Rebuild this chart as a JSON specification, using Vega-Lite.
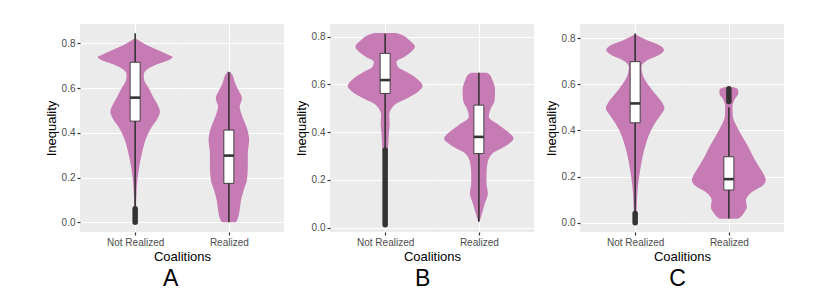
{
  "$schema": "https://vega.github.io/schema/vega-lite/v6.json",
  "background": "white",
  "padding": {"left": 45, "top": 24, "right": 0, "bottom": 0},
  "spacing": 11,
  "config": {
    "font": "Liberation Sans",
    "view": {"fill": "#EBEBEB", "stroke": null},
    "axis": {"labelFontSize": 10, "labelColor": "#4D4D4D", "tickColor": "#333333", "tickWidth": 1.2, "tickSize": 3, "labelPadding": 2, "domain": false, "gridColor": "white", "titleFontWeight": "normal", "titleColor": "black", "titleFontSize": 13, "labelFlush": false},
    "title": {"font": "Liberation Sans", "fontWeight": "normal", "color": "black"}
  },
  "datasets": {
    "violin": [
      {"panel":"A","group":"Not Realized","value":0.0,"density":0.05},
      {"panel":"A","group":"Not Realized","value":0.07,"density":0.1},
      {"panel":"A","group":"Not Realized","value":0.13,"density":0.15},
      {"panel":"A","group":"Not Realized","value":0.19,"density":0.25},
      {"panel":"A","group":"Not Realized","value":0.248,"density":0.45},
      {"panel":"A","group":"Not Realized","value":0.308,"density":0.75},
      {"panel":"A","group":"Not Realized","value":0.368,"density":1.15},
      {"panel":"A","group":"Not Realized","value":0.427,"density":1.85},
      {"panel":"A","group":"Not Realized","value":0.465,"density":2.5},
      {"panel":"A","group":"Not Realized","value":0.494,"density":2.75},
      {"panel":"A","group":"Not Realized","value":0.524,"density":2.5},
      {"panel":"A","group":"Not Realized","value":0.56,"density":2.0},
      {"panel":"A","group":"Not Realized","value":0.6,"density":1.5},
      {"panel":"A","group":"Not Realized","value":0.636,"density":1.0},
      {"panel":"A","group":"Not Realized","value":0.658,"density":0.95},
      {"panel":"A","group":"Not Realized","value":0.68,"density":1.25},
      {"panel":"A","group":"Not Realized","value":0.703,"density":2.25},
      {"panel":"A","group":"Not Realized","value":0.725,"density":3.75},
      {"panel":"A","group":"Not Realized","value":0.738,"density":4.15},
      {"panel":"A","group":"Not Realized","value":0.75,"density":3.6},
      {"panel":"A","group":"Not Realized","value":0.77,"density":2.5},
      {"panel":"A","group":"Not Realized","value":0.79,"density":1.4},
      {"panel":"A","group":"Not Realized","value":0.81,"density":0.5},
      {"panel":"A","group":"Not Realized","value":0.82,"density":0.1},

      {"panel":"A","group":"Realized","value":0.0,"density":0.8},
      {"panel":"A","group":"Realized","value":0.018,"density":1.0},
      {"panel":"A","group":"Realized","value":0.055,"density":1.2},
      {"panel":"A","group":"Realized","value":0.1,"density":1.35},
      {"panel":"A","group":"Realized","value":0.144,"density":1.65},
      {"panel":"A","group":"Realized","value":0.189,"density":2.0},
      {"panel":"A","group":"Realized","value":0.248,"density":2.1},
      {"panel":"A","group":"Realized","value":0.308,"density":2.1},
      {"panel":"A","group":"Realized","value":0.368,"density":2.25},
      {"panel":"A","group":"Realized","value":0.427,"density":1.95},
      {"panel":"A","group":"Realized","value":0.472,"density":1.5},
      {"panel":"A","group":"Realized","value":0.517,"density":1.2},
      {"panel":"A","group":"Realized","value":0.554,"density":1.45},
      {"panel":"A","group":"Realized","value":0.584,"density":1.15},
      {"panel":"A","group":"Realized","value":0.621,"density":0.7},
      {"panel":"A","group":"Realized","value":0.658,"density":0.4},
      {"panel":"A","group":"Realized","value":0.673,"density":0.15},

      {"panel":"B","group":"Not Realized","value":0.007,"density":0.2},
      {"panel":"B","group":"Not Realized","value":0.1,"density":0.2},
      {"panel":"B","group":"Not Realized","value":0.2,"density":0.2},
      {"panel":"B","group":"Not Realized","value":0.3,"density":0.25},
      {"panel":"B","group":"Not Realized","value":0.35,"density":0.35},
      {"panel":"B","group":"Not Realized","value":0.394,"density":0.4},
      {"panel":"B","group":"Not Realized","value":0.436,"density":0.5},
      {"panel":"B","group":"Not Realized","value":0.471,"density":0.45},
      {"panel":"B","group":"Not Realized","value":0.499,"density":0.7},
      {"panel":"B","group":"Not Realized","value":0.52,"density":1.25},
      {"panel":"B","group":"Not Realized","value":0.541,"density":2.4},
      {"panel":"B","group":"Not Realized","value":0.569,"density":3.65},
      {"panel":"B","group":"Not Realized","value":0.593,"density":4.15},
      {"panel":"B","group":"Not Realized","value":0.625,"density":3.5},
      {"panel":"B","group":"Not Realized","value":0.653,"density":2.35},
      {"panel":"B","group":"Not Realized","value":0.674,"density":1.4},
      {"panel":"B","group":"Not Realized","value":0.695,"density":1.25},
      {"panel":"B","group":"Not Realized","value":0.716,"density":2.15},
      {"panel":"B","group":"Not Realized","value":0.737,"density":2.9},
      {"panel":"B","group":"Not Realized","value":0.758,"density":3.3},
      {"panel":"B","group":"Not Realized","value":0.786,"density":2.65},
      {"panel":"B","group":"Not Realized","value":0.805,"density":2.0},
      {"panel":"B","group":"Not Realized","value":0.815,"density":1.2},

      {"panel":"B","group":"Realized","value":0.024,"density":0.05},
      {"panel":"B","group":"Realized","value":0.059,"density":0.35},
      {"panel":"B","group":"Realized","value":0.1,"density":0.65},
      {"panel":"B","group":"Realized","value":0.143,"density":1.0},
      {"panel":"B","group":"Realized","value":0.185,"density":0.85},
      {"panel":"B","group":"Realized","value":0.227,"density":0.85},
      {"panel":"B","group":"Realized","value":0.268,"density":0.95},
      {"panel":"B","group":"Realized","value":0.31,"density":1.5},
      {"panel":"B","group":"Realized","value":0.345,"density":3.1},
      {"panel":"B","group":"Realized","value":0.373,"density":3.85},
      {"panel":"B","group":"Realized","value":0.394,"density":3.45},
      {"panel":"B","group":"Realized","value":0.429,"density":2.25},
      {"panel":"B","group":"Realized","value":0.464,"density":1.1},
      {"panel":"B","group":"Realized","value":0.492,"density":1.25},
      {"panel":"B","group":"Realized","value":0.534,"density":1.75},
      {"panel":"B","group":"Realized","value":0.576,"density":1.8},
      {"panel":"B","group":"Realized","value":0.618,"density":1.5},
      {"panel":"B","group":"Realized","value":0.64,"density":1.2},
      {"panel":"B","group":"Realized","value":0.649,"density":0.9},

      {"panel":"C","group":"Not Realized","value":0.0,"density":0.1},
      {"panel":"C","group":"Not Realized","value":0.05,"density":0.15},
      {"panel":"C","group":"Not Realized","value":0.1,"density":0.2},
      {"panel":"C","group":"Not Realized","value":0.156,"density":0.3},
      {"panel":"C","group":"Not Realized","value":0.214,"density":0.5},
      {"panel":"C","group":"Not Realized","value":0.272,"density":0.75},
      {"panel":"C","group":"Not Realized","value":0.329,"density":1.1},
      {"panel":"C","group":"Not Realized","value":0.387,"density":1.6},
      {"panel":"C","group":"Not Realized","value":0.431,"density":2.2},
      {"panel":"C","group":"Not Realized","value":0.474,"density":2.95},
      {"panel":"C","group":"Not Realized","value":0.495,"density":3.25},
      {"panel":"C","group":"Not Realized","value":0.52,"density":3.0},
      {"panel":"C","group":"Not Realized","value":0.546,"density":2.5},
      {"panel":"C","group":"Not Realized","value":0.582,"density":1.75},
      {"panel":"C","group":"Not Realized","value":0.618,"density":1.1},
      {"panel":"C","group":"Not Realized","value":0.654,"density":0.75},
      {"panel":"C","group":"Not Realized","value":0.676,"density":0.7},
      {"panel":"C","group":"Not Realized","value":0.705,"density":1.4},
      {"panel":"C","group":"Not Realized","value":0.727,"density":2.65},
      {"panel":"C","group":"Not Realized","value":0.748,"density":3.2},
      {"panel":"C","group":"Not Realized","value":0.77,"density":2.65},
      {"panel":"C","group":"Not Realized","value":0.792,"density":1.25},
      {"panel":"C","group":"Not Realized","value":0.81,"density":0.3},
      {"panel":"C","group":"Not Realized","value":0.815,"density":0.05},

      {"panel":"C","group":"Realized","value":0.017,"density":1.0},
      {"panel":"C","group":"Realized","value":0.025,"density":1.3},
      {"panel":"C","group":"Realized","value":0.041,"density":1.65},
      {"panel":"C","group":"Realized","value":0.069,"density":2.0},
      {"panel":"C","group":"Realized","value":0.098,"density":1.9},
      {"panel":"C","group":"Realized","value":0.134,"density":2.6},
      {"panel":"C","group":"Realized","value":0.163,"density":3.8},
      {"panel":"C","group":"Realized","value":0.185,"density":4.1},
      {"panel":"C","group":"Realized","value":0.207,"density":3.9},
      {"panel":"C","group":"Realized","value":0.243,"density":3.35},
      {"panel":"C","group":"Realized","value":0.286,"density":2.7},
      {"panel":"C","group":"Realized","value":0.329,"density":2.15},
      {"panel":"C","group":"Realized","value":0.373,"density":1.5},
      {"panel":"C","group":"Realized","value":0.416,"density":0.9},
      {"panel":"C","group":"Realized","value":0.459,"density":0.45},
      {"panel":"C","group":"Realized","value":0.503,"density":0.4},
      {"panel":"C","group":"Realized","value":0.532,"density":0.6},
      {"panel":"C","group":"Realized","value":0.561,"density":1.05},
      {"panel":"C","group":"Realized","value":0.578,"density":1.0},
      {"panel":"C","group":"Realized","value":0.587,"density":0.5}
    ],
    "box": [
      {"panel":"A","group":"Not Realized","lo":0.07,"q1":0.452,"median":0.557,"q3":0.715,"hi":0.845,"olo":0.0,"ohi":0.06},
      {"panel":"A","group":"Realized","lo":0.0,"q1":0.174,"median":0.298,"q3":0.412,"hi":0.67},
      {"panel":"B","group":"Not Realized","lo":0.33,"q1":0.562,"median":0.618,"q3":0.73,"hi":0.812,"olo":0.012,"ohi":0.325},
      {"panel":"B","group":"Realized","lo":0.024,"q1":0.31,"median":0.38,"q3":0.513,"hi":0.649},
      {"panel":"C","group":"Not Realized","lo":0.05,"q1":0.433,"median":0.517,"q3":0.698,"hi":0.82,"olo":0.0,"ohi":0.04},
      {"panel":"C","group":"Realized","lo":0.018,"q1":0.142,"median":0.189,"q3":0.286,"hi":0.5,"olo":0.525,"ohi":0.58}
    ]
  },
  "hconcat": [
    {
      "title": {"text": "A", "orient": "bottom", "anchor": "middle", "fontSize": 23, "offset": 5, "dx": 6},
      "bounds": "flush", "spacing": 0,
      "hconcat": [
        {
          "width": 102, "height": 208,
          "layer": [
            {"data": {"name": "violin"}, "transform": [{"filter": "datum.panel == 'A' && datum.group == 'Not Realized'"}],
             "mark": {"type": "area", "orient": "horizontal", "interpolate": "monotone", "color": "#C77BB4", "opacity": 1},
             "encoding": {
               "y": {"field": "value", "type": "quantitative", "scale": {"domain": [-0.0434, 0.886], "nice": false, "zero": false},
                     "axis": {"values": [0,0.1,0.2,0.3,0.4,0.5,0.6,0.7,0.8], "labelExpr": "round(datum.value*10) % 2 == 1 ? '' : format(datum.value, '.1f')", "title": "Inequality", "titlePadding": 3, "grid": true, "tickOpacity": {"condition": {"test": "round(datum.value*10) % 2 == 1", "value": 0}, "value": 1}, "gridWidth": {"condition": {"test": "round(datum.value*10) % 2 == 1", "value": 0.55}, "value": 1.1}}},
               "x": {"field": "density", "type": "quantitative", "stack": "center", "impute": null, "scale": {"domain": [-0.705, 4.395], "nice": false, "zero": false},
                     "axis": {"values": [2.075], "labelExpr": "'Not Realized'", "title": "Coalitions", "titleAnchor": "end", "titleAlign": "center", "titlePadding": 3, "grid": true, "gridWidth": 1.1}}
             }},
            {"data": {"name": "box"}, "transform": [{"filter": "datum.panel == 'A' && datum.group == 'Not Realized'"}],
             "mark": {"type": "rule", "color": "#333333", "strokeWidth": 1.6},
             "encoding": {"x": {"datum": 2.075, "type": "quantitative"}, "y": {"field": "lo", "type": "quantitative"}, "y2": {"field": "hi"}}},
            {"data": {"name": "box"}, "transform": [{"filter": "datum.panel == 'A' && datum.group == 'Not Realized'"}],
             "mark": {"type": "rule", "color": "#333333", "strokeWidth": 5.5, "strokeCap": "round"},
             "encoding": {"x": {"datum": 2.075, "type": "quantitative"}, "y": {"field": "olo", "type": "quantitative"}, "y2": {"field": "ohi"}}},
            {"data": {"name": "box"}, "transform": [{"filter": "datum.panel == 'A' && datum.group == 'Not Realized'"}],
             "mark": {"type": "bar", "size": 10, "fill": "white", "stroke": "#333333", "strokeWidth": 0.9},
             "encoding": {"x": {"datum": 2.075, "type": "quantitative"}, "y": {"field": "q1", "type": "quantitative"}, "y2": {"field": "q3"}}},
            {"data": {"name": "box"}, "transform": [{"filter": "datum.panel == 'A' && datum.group == 'Not Realized'"}],
             "mark": {"type": "tick", "orient": "horizontal", "size": 10, "thickness": 2.6, "color": "#333333", "opacity": 1},
             "encoding": {"x": {"datum": 2.075, "type": "quantitative"}, "y": {"field": "median", "type": "quantitative"}}}
          ]
        },
        {
          "width": 102, "height": 208,
          "layer": [
            {"data": {"name": "violin"}, "transform": [{"filter": "datum.panel == 'A' && datum.group == 'Realized'"}],
             "mark": {"type": "area", "orient": "horizontal", "interpolate": "monotone", "color": "#C77BB4", "opacity": 1},
             "encoding": {
               "y": {"field": "value", "type": "quantitative", "scale": {"domain": [-0.0434, 0.886], "nice": false, "zero": false},
                     "axis": {"values": [0,0.1,0.2,0.3,0.4,0.5,0.6,0.7,0.8], "labels": false, "ticks": false, "title": null, "grid": true, "gridWidth": {"condition": {"test": "round(datum.value*10) % 2 == 1", "value": 0.55}, "value": 1.1}}},
               "x": {"field": "density", "type": "quantitative", "stack": "center", "impute": null, "scale": {"domain": [-1.195, 3.905], "nice": false, "zero": false},
                     "axis": {"values": [1.125], "labelExpr": "'Realized'", "title": null, "grid": true, "gridWidth": 1.1}}
             }},
            {"data": {"name": "box"}, "transform": [{"filter": "datum.panel == 'A' && datum.group == 'Realized'"}],
             "mark": {"type": "rule", "color": "#333333", "strokeWidth": 1.6},
             "encoding": {"x": {"datum": 1.125, "type": "quantitative"}, "y": {"field": "lo", "type": "quantitative"}, "y2": {"field": "hi"}}},
            {"data": {"name": "box"}, "transform": [{"filter": "datum.panel == 'A' && datum.group == 'Realized'"}],
             "mark": {"type": "bar", "size": 10, "fill": "white", "stroke": "#333333", "strokeWidth": 0.9},
             "encoding": {"x": {"datum": 1.125, "type": "quantitative"}, "y": {"field": "q1", "type": "quantitative"}, "y2": {"field": "q3"}}},
            {"data": {"name": "box"}, "transform": [{"filter": "datum.panel == 'A' && datum.group == 'Realized'"}],
             "mark": {"type": "tick", "orient": "horizontal", "size": 10, "thickness": 2.6, "color": "#333333", "opacity": 1},
             "encoding": {"x": {"datum": 1.125, "type": "quantitative"}, "y": {"field": "median", "type": "quantitative"}}}
          ]
        }
      ]
    },
    {
      "title": {"text": "B", "orient": "bottom", "anchor": "middle", "fontSize": 23, "offset": 5, "dx": 8},
      "bounds": "flush", "spacing": 0,
      "hconcat": [
        {
          "width": 102, "height": 208,
          "layer": [
            {"data": {"name": "violin"}, "transform": [{"filter": "datum.panel == 'B' && datum.group == 'Not Realized'"}],
             "mark": {"type": "area", "orient": "horizontal", "interpolate": "monotone", "color": "#C77BB4", "opacity": 1},
             "encoding": {
               "y": {"field": "value", "type": "quantitative", "scale": {"domain": [-0.0185, 0.853], "nice": false, "zero": false},
                     "axis": {"values": [0,0.1,0.2,0.3,0.4,0.5,0.6,0.7,0.8], "labelExpr": "round(datum.value*10) % 2 == 1 ? '' : format(datum.value, '.1f')", "title": "Inequality", "titlePadding": 3, "grid": true, "tickOpacity": {"condition": {"test": "round(datum.value*10) % 2 == 1", "value": 0}, "value": 1}, "gridWidth": {"condition": {"test": "round(datum.value*10) % 2 == 1", "value": 0.55}, "value": 1.1}}},
               "x": {"field": "density", "type": "quantitative", "stack": "center", "impute": null, "scale": {"domain": [-0.705, 4.395], "nice": false, "zero": false},
                     "axis": {"values": [2.075], "labelExpr": "'Not Realized'", "title": "Coalitions", "titleAnchor": "end", "titleAlign": "center", "titlePadding": 3, "grid": true, "gridWidth": 1.1}}
             }},
            {"data": {"name": "box"}, "transform": [{"filter": "datum.panel == 'B' && datum.group == 'Not Realized'"}],
             "mark": {"type": "rule", "color": "#333333", "strokeWidth": 1.6},
             "encoding": {"x": {"datum": 2.075, "type": "quantitative"}, "y": {"field": "lo", "type": "quantitative"}, "y2": {"field": "hi"}}},
            {"data": {"name": "box"}, "transform": [{"filter": "datum.panel == 'B' && datum.group == 'Not Realized'"}],
             "mark": {"type": "rule", "color": "#333333", "strokeWidth": 5.5, "strokeCap": "round"},
             "encoding": {"x": {"datum": 2.075, "type": "quantitative"}, "y": {"field": "olo", "type": "quantitative"}, "y2": {"field": "ohi"}}},
            {"data": {"name": "box"}, "transform": [{"filter": "datum.panel == 'B' && datum.group == 'Not Realized'"}],
             "mark": {"type": "bar", "size": 10, "fill": "white", "stroke": "#333333", "strokeWidth": 0.9},
             "encoding": {"x": {"datum": 2.075, "type": "quantitative"}, "y": {"field": "q1", "type": "quantitative"}, "y2": {"field": "q3"}}},
            {"data": {"name": "box"}, "transform": [{"filter": "datum.panel == 'B' && datum.group == 'Not Realized'"}],
             "mark": {"type": "tick", "orient": "horizontal", "size": 10, "thickness": 2.6, "color": "#333333", "opacity": 1},
             "encoding": {"x": {"datum": 2.075, "type": "quantitative"}, "y": {"field": "median", "type": "quantitative"}}}
          ]
        },
        {
          "width": 102, "height": 208,
          "layer": [
            {"data": {"name": "violin"}, "transform": [{"filter": "datum.panel == 'B' && datum.group == 'Realized'"}],
             "mark": {"type": "area", "orient": "horizontal", "interpolate": "monotone", "color": "#C77BB4", "opacity": 1},
             "encoding": {
               "y": {"field": "value", "type": "quantitative", "scale": {"domain": [-0.0185, 0.853], "nice": false, "zero": false},
                     "axis": {"values": [0,0.1,0.2,0.3,0.4,0.5,0.6,0.7,0.8], "labels": false, "ticks": false, "title": null, "grid": true, "gridWidth": {"condition": {"test": "round(datum.value*10) % 2 == 1", "value": 0.55}, "value": 1.1}}},
               "x": {"field": "density", "type": "quantitative", "stack": "center", "impute": null, "scale": {"domain": [-0.395, 4.705], "nice": false, "zero": false},
                     "axis": {"values": [1.925], "labelExpr": "'Realized'", "title": null, "grid": true, "gridWidth": 1.1}}
             }},
            {"data": {"name": "box"}, "transform": [{"filter": "datum.panel == 'B' && datum.group == 'Realized'"}],
             "mark": {"type": "rule", "color": "#333333", "strokeWidth": 1.6},
             "encoding": {"x": {"datum": 1.925, "type": "quantitative"}, "y": {"field": "lo", "type": "quantitative"}, "y2": {"field": "hi"}}},
            {"data": {"name": "box"}, "transform": [{"filter": "datum.panel == 'B' && datum.group == 'Realized'"}],
             "mark": {"type": "bar", "size": 10, "fill": "white", "stroke": "#333333", "strokeWidth": 0.9},
             "encoding": {"x": {"datum": 1.925, "type": "quantitative"}, "y": {"field": "q1", "type": "quantitative"}, "y2": {"field": "q3"}}},
            {"data": {"name": "box"}, "transform": [{"filter": "datum.panel == 'B' && datum.group == 'Realized'"}],
             "mark": {"type": "tick", "orient": "horizontal", "size": 10, "thickness": 2.6, "color": "#333333", "opacity": 1},
             "encoding": {"x": {"datum": 1.925, "type": "quantitative"}, "y": {"field": "median", "type": "quantitative"}}}
          ]
        }
      ]
    },
    {
      "title": {"text": "C", "orient": "bottom", "anchor": "middle", "fontSize": 23, "offset": 5, "dx": 13},
      "bounds": "flush", "spacing": 0,
      "hconcat": [
        {
          "width": 102, "height": 208,
          "layer": [
            {"data": {"name": "violin"}, "transform": [{"filter": "datum.panel == 'C' && datum.group == 'Not Realized'"}],
             "mark": {"type": "area", "orient": "horizontal", "interpolate": "monotone", "color": "#C77BB4", "opacity": 1},
             "encoding": {
               "y": {"field": "value", "type": "quantitative", "scale": {"domain": [-0.04, 0.861], "nice": false, "zero": false},
                     "axis": {"values": [0,0.1,0.2,0.3,0.4,0.5,0.6,0.7,0.8], "labelExpr": "round(datum.value*10) % 2 == 1 ? '' : format(datum.value, '.1f')", "title": "Inequality", "titlePadding": 3, "grid": true, "tickOpacity": {"condition": {"test": "round(datum.value*10) % 2 == 1", "value": 0}, "value": 1}, "gridWidth": {"condition": {"test": "round(datum.value*10) % 2 == 1", "value": 0.55}, "value": 1.1}}},
               "x": {"field": "density", "type": "quantitative", "stack": "center", "impute": null, "scale": {"domain": [-1.155, 3.945], "nice": false, "zero": false},
                     "axis": {"values": [1.625], "labelExpr": "'Not Realized'", "title": "Coalitions", "titleAnchor": "end", "titleAlign": "center", "titlePadding": 3, "grid": true, "gridWidth": 1.1}}
             }},
            {"data": {"name": "box"}, "transform": [{"filter": "datum.panel == 'C' && datum.group == 'Not Realized'"}],
             "mark": {"type": "rule", "color": "#333333", "strokeWidth": 1.6},
             "encoding": {"x": {"datum": 1.625, "type": "quantitative"}, "y": {"field": "lo", "type": "quantitative"}, "y2": {"field": "hi"}}},
            {"data": {"name": "box"}, "transform": [{"filter": "datum.panel == 'C' && datum.group == 'Not Realized'"}],
             "mark": {"type": "rule", "color": "#333333", "strokeWidth": 5.5, "strokeCap": "round"},
             "encoding": {"x": {"datum": 1.625, "type": "quantitative"}, "y": {"field": "olo", "type": "quantitative"}, "y2": {"field": "ohi"}}},
            {"data": {"name": "box"}, "transform": [{"filter": "datum.panel == 'C' && datum.group == 'Not Realized'"}],
             "mark": {"type": "bar", "size": 10, "fill": "white", "stroke": "#333333", "strokeWidth": 0.9},
             "encoding": {"x": {"datum": 1.625, "type": "quantitative"}, "y": {"field": "q1", "type": "quantitative"}, "y2": {"field": "q3"}}},
            {"data": {"name": "box"}, "transform": [{"filter": "datum.panel == 'C' && datum.group == 'Not Realized'"}],
             "mark": {"type": "tick", "orient": "horizontal", "size": 10, "thickness": 2.6, "color": "#333333", "opacity": 1},
             "encoding": {"x": {"datum": 1.625, "type": "quantitative"}, "y": {"field": "median", "type": "quantitative"}}}
          ]
        },
        {
          "width": 102, "height": 208,
          "layer": [
            {"data": {"name": "violin"}, "transform": [{"filter": "datum.panel == 'C' && datum.group == 'Realized'"}],
             "mark": {"type": "area", "orient": "horizontal", "interpolate": "monotone", "color": "#C77BB4", "opacity": 1},
             "encoding": {
               "y": {"field": "value", "type": "quantitative", "scale": {"domain": [-0.04, 0.861], "nice": false, "zero": false},
                     "axis": {"values": [0,0.1,0.2,0.3,0.4,0.5,0.6,0.7,0.8], "labels": false, "ticks": false, "title": null, "grid": true, "gridWidth": {"condition": {"test": "round(datum.value*10) % 2 == 1", "value": 0.55}, "value": 1.1}}},
               "x": {"field": "density", "type": "quantitative", "stack": "center", "impute": null, "scale": {"domain": [-0.27, 4.83], "nice": false, "zero": false},
                     "axis": {"values": [2.05], "labelExpr": "'Realized'", "title": null, "grid": true, "gridWidth": 1.1}}
             }},
            {"data": {"name": "box"}, "transform": [{"filter": "datum.panel == 'C' && datum.group == 'Realized'"}],
             "mark": {"type": "rule", "color": "#333333", "strokeWidth": 1.6},
             "encoding": {"x": {"datum": 2.05, "type": "quantitative"}, "y": {"field": "lo", "type": "quantitative"}, "y2": {"field": "hi"}}},
            {"data": {"name": "box"}, "transform": [{"filter": "datum.panel == 'C' && datum.group == 'Realized'"}],
             "mark": {"type": "rule", "color": "#333333", "strokeWidth": 5.5, "strokeCap": "round"},
             "encoding": {"x": {"datum": 2.05, "type": "quantitative"}, "y": {"field": "olo", "type": "quantitative"}, "y2": {"field": "ohi"}}},
            {"data": {"name": "box"}, "transform": [{"filter": "datum.panel == 'C' && datum.group == 'Realized'"}],
             "mark": {"type": "bar", "size": 10, "fill": "white", "stroke": "#333333", "strokeWidth": 0.9},
             "encoding": {"x": {"datum": 2.05, "type": "quantitative"}, "y": {"field": "q1", "type": "quantitative"}, "y2": {"field": "q3"}}},
            {"data": {"name": "box"}, "transform": [{"filter": "datum.panel == 'C' && datum.group == 'Realized'"}],
             "mark": {"type": "tick", "orient": "horizontal", "size": 10, "thickness": 2.6, "color": "#333333", "opacity": 1},
             "encoding": {"x": {"datum": 2.05, "type": "quantitative"}, "y": {"field": "median", "type": "quantitative"}}}
          ]
        }
      ]
    }
  ]
}
